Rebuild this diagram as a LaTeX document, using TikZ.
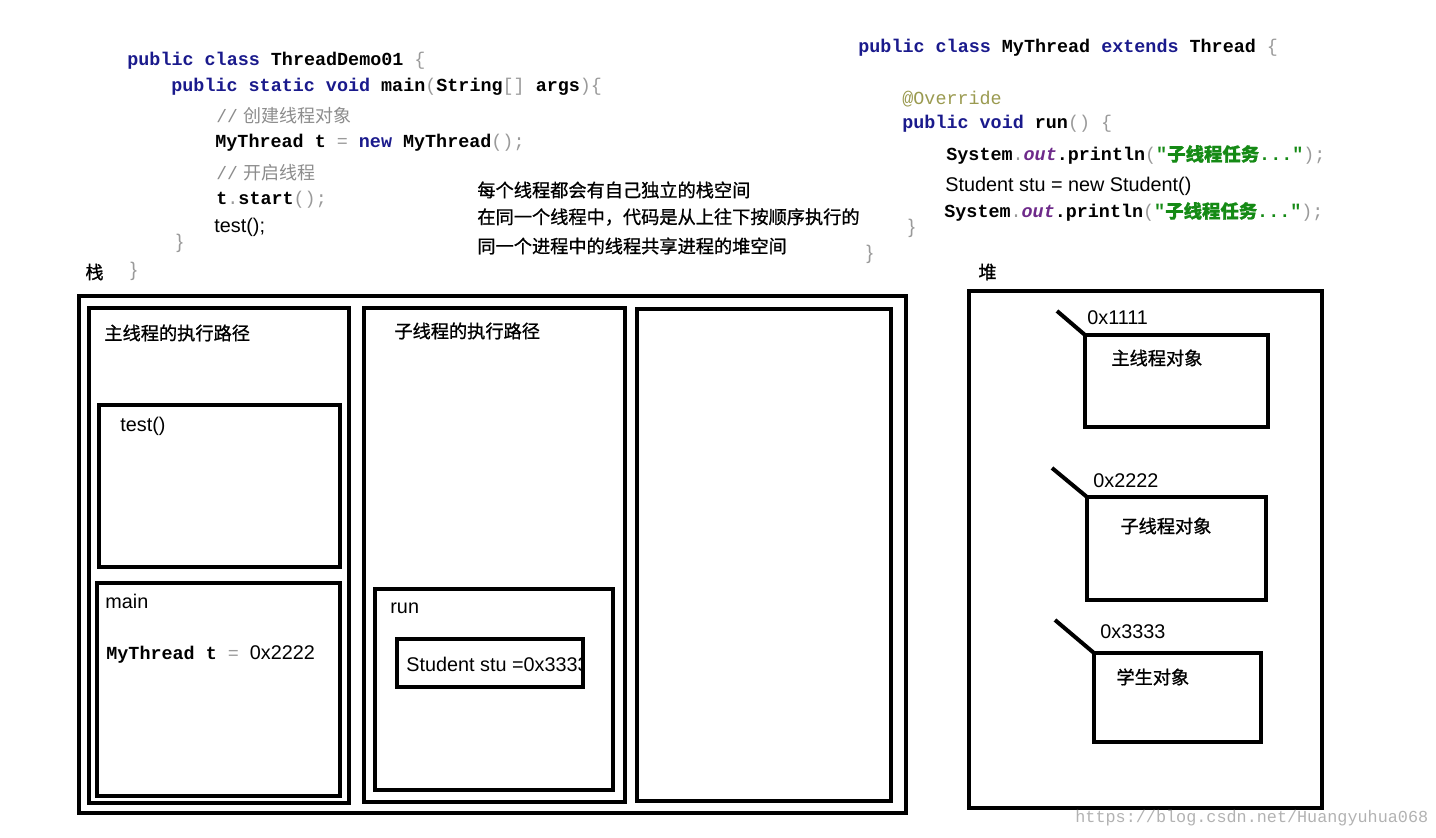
\documentclass[tikz,border=0pt]{standalone}
\usepackage{fontspec}
\setmainfont{Liberation Sans}
\setmonofont{Liberation Mono}
\newfontfamily\cjk{Noto Sans CJK SC}
\newfontfamily\cjkb{Noto Sans CJK SC}[FakeBold=1]
\definecolor{kw}{HTML}{1A1A8C}
\definecolor{cmt}{HTML}{8C8C8C}
\definecolor{str}{HTML}{158A15}
\definecolor{anno}{HTML}{9A9A50}
\definecolor{fld}{HTML}{6E2A8A}
\definecolor{pun}{HTML}{9A9A9A}
\newcommand{\kw}[1]{\textcolor{kw}{#1}}
\newcommand{\pn}[1]{\textcolor{pun}{\mdseries #1}}
\begin{document}
\begin{tikzpicture}[x=0.5pt, y=-0.5pt, line join=miter,
  txt/.style={anchor=west, inner sep=0pt, font=\fontsize{9.9}{12}\selectfont},
  code/.style={txt, font=\fontsize{9.2}{11}\selectfont\ttfamily\bfseries},
  note/.style={txt, font=\fontsize{9.1}{11}\selectfont\cjkb},
  comment/.style={txt, text=cmt, font=\fontsize{9}{11}\selectfont},
  box/.style={draw, line width=2pt},
  slash/.style={line width=2pt},
  wmark/.style={txt, text=black!30, font=\fontsize{8.4}{10}\selectfont\ttfamily}]
\useasboundingbox (0,0) rectangle (1436,838);
% left code
\node[code] (cls) at (127,61) {\kw{public class} ThreadDemo01 \pn{\{}};
\node[code] (mainsig) at (171,87) {\kw{public static void} main\pn{(}String\pn{[]} args\pn{)\{}};
\node[comment] (cmt1) at (216,116) {{\ttfamily//} {\cjk 创建线程对象}};
\node[code] (newt) at (215,143) {MyThread t \pn{=} \kw{new} MyThread\pn{();}};
\node[comment] (cmt2) at (216,173) {{\ttfamily//} {\cjk 开启线程}};
\node[code] (start) at (216,200) {t\pn{.}start\pn{();}};
\node[txt] (test) at (214,227) {test();};
\node[txt, text=pun] (brace1) at (176,243) {\}};
\node[note] (stack) at (85,272) {栈};
\node[txt, text=pun] (brace2) at (130,271) {\}};
% notes
\node[note] (note1) at (477,190) {每个线程都会有自己独立的栈空间};
\node[note] (note2) at (477,217) {在同一个线程中，代码是从上往下按顺序执行的};
\node[note] (note3) at (477,246) {同一个进程中的线程共享进程的堆空间};
% right code
\node[code] (cls2) at (858,48) {\kw{public class} MyThread \kw{extends} Thread \pn{\{}};
\node[txt, text=anno, font=\fontsize{9.2}{11}\selectfont\ttfamily] (ovr) at (902,99) {@Override};
\node[code] (runsig) at (902,124) {\kw{public void} run\pn{()} \pn{\{}};
\node[code] (print1) at (946,155) {System\pn{.}\textcolor{fld}{\itshape out}.println\pn{(}\textcolor{str}{"{\cjkb 子线程任务}..."}\pn{);}};
\node[txt] (newstu) at (945,186) {Student stu = new Student()};
\node[code] (print2) at (944,212) {System\pn{.}\textcolor{fld}{\itshape out}.println\pn{(}\textcolor{str}{"{\cjkb 子线程任务}..."}\pn{);}};
\node[txt, text=pun] (brace3) at (908,228) {\}};
\node[txt, text=pun] (brace4) at (866,254) {\}};
\node[note] (heap) at (978,272) {堆};
% stack
\draw[box] (79,296) rectangle (906,813);
\draw[box] (89,308) rectangle (349,803);
\node[note] (mainpath) at (104,333) {主线程的执行路径};
\draw[box] (99,405) rectangle (340,567);
\node[txt] (testfr) at (120,426) {test()};
\draw[box] (97,583) rectangle (340,796);
\node[txt] (mainfr) at (105,601) {main};
\node[code] (tref) at (106,655) {MyThread t \pn{=} {\rmfamily\mdseries\fontsize{9.9}{12}\selectfont 0x2222}};
\draw[box] (364,308) rectangle (625,802);
\node[note] (subpath) at (394,331) {子线程的执行路径};
\draw[box] (375,589) rectangle (613,790);
\node[txt] (runfr) at (390,608) {run};
\begin{scope}
\clip (397,639) rectangle (583,687);
\node[txt] (sturef) at (406,664) {Student stu =0x3333};
\end{scope}
\draw[box] (397,639) rectangle (583,687);
\draw[box] (637,309) rectangle (891,801);
% heap
\draw[box, line width=1.6pt] (969,291) rectangle (1322,808);
\coordinate (obj1) at (1085,335);
\coordinate (tip1) at (1057,311);
\draw[box] (obj1) rectangle (1268,427);
\draw[slash] (tip1) -- (obj1);
\node[txt] (addr1) at (1087,318) {0x1111};
\node[note] (mainobj) at (1111,358) {主线程对象};
\coordinate (obj2) at (1087,497);
\coordinate (tip2) at (1052,468);
\draw[box] (obj2) rectangle (1266,600);
\draw[slash] (tip2) -- (obj2);
\node[txt] (addr2) at (1093,481) {0x2222};
\node[note] (subobj) at (1120,526) {子线程对象};
\coordinate (obj3) at (1094,653);
\coordinate (tip3) at (1055,620);
\draw[box] (obj3) rectangle (1261,742);
\draw[slash] (tip3) -- (obj3);
\node[txt] (addr3) at (1100,632) {0x3333};
\node[note] (stuobj) at (1116,677) {学生对象};
\node[wmark] (site) at (1075,818) {https://blog.csdn.net/Huangyuhua068};
\end{tikzpicture}
\end{document}
